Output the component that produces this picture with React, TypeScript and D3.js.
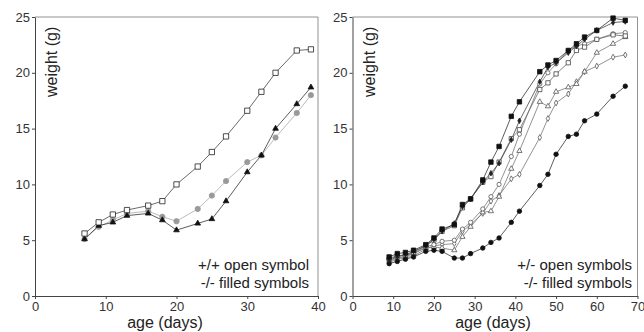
import React, { useRef, useEffect } from "react";
import * as d3 from "d3";

// left panel: +/+ vs -/-
const daysL = [7, 9, 11, 13, 16, 18, 20, 23, 25, 27, 30, 32, 34, 37, 39];
const wtOpenSq = [5.6, 6.6, 7.3, 7.7, 8.1, 8.5, 10.0, 11.6, 12.9, 14.3, 16.6, 18.3, 20.0, 22.0, 22.1];
const wtGrayCirc = [5.1, 6.2, 6.8, 7.4, 7.6, 7.1, 6.7, 7.8, 9.0, 10.3, 12.0, 12.6, 14.2, 16.4, 18.0];
const wtBlackTri = [5.1, 6.3, 6.6, 7.2, 7.4, 6.8, 5.9, 6.5, 6.9, 8.5, 11.1, 12.6, 15.0, 17.2, 18.7];

// right panel: +/- vs -/-
const daysR = [9, 11, 13, 15, 18, 20, 22, 25, 27, 29, 32, 34, 36, 39, 41, 46, 48, 50, 53, 55, 57, 60, 64, 67];
const wtFillSq = [3.5, 3.8, 3.9, 4.1, 4.6, 5.2, 6.0, 6.4, 8.2, 8.7, 10.4, 12.0, 13.4, 16.1, 17.4, 20.1, 20.7, 21.1, 22.0, 22.6, 23.2, 23.8, 24.9, 24.7];
const wtFillDia = [3.2, 3.5, 3.7, 4.0, 4.5, 5.1, 5.8, 6.5, 8.0, 8.7, 10.2, 11.0, 11.9, 14.0, 15.7, 19.2, 20.5, 20.9, 21.8, 22.4, 23.0, 23.8, 24.5, 24.6];
const wtFillCirc = [2.9, 3.1, 3.3, 3.5, 4.0, 4.1, 4.0, 3.4, 3.4, 3.8, 4.3, 4.8, 5.2, 6.6, 7.6, 9.9, 10.9, 12.7, 14.3, 14.5, 15.7, 16.3, 17.9, 18.8];
const wtOpenSqR = [3.3, 3.6, 3.6, 3.9, 4.5, 5.0, 5.8, 6.3, 7.9, 8.7, 10.2, 10.7, 12.0, 14.1, 14.9, 18.5, 19.1, 19.9, 20.9, 22.0, 22.3, 23.0, 23.4, 23.3];
const wtOpenCirc = [3.1, 3.4, 3.5, 3.8, 4.4, 4.6, 4.9, 5.0, 6.0, 6.6, 7.8, 8.9, 10.0, 12.5, 14.5, 19.0, 20.0, 20.8, 22.0, 22.4, 22.6, 23.0, 23.5, 23.6];
const wtOpenTri = [3.4, 3.6, 3.7, 3.8, 4.3, 4.4, 4.3, 4.1, 5.3, 6.2, 7.5, 7.6, 8.9, 11.4, 13.0, 17.4, 17.0, 18.3, 18.7, 19.0, 20.1, 21.8, 22.6, 23.2];
const wtOpenDia = [3.0, 3.3, 3.4, 3.6, 4.2, 4.5, 4.6, 4.7, 5.8, 6.4, 7.4, 8.5, 9.0, 10.5, 10.9, 14.2, 15.9, 17.3, 18.1, 19.2, 20.1, 20.6, 21.4, 21.6];

const yTicks = [0, 5, 10, 15, 20, 25];
const xTicksL = [0, 10, 20, 30, 40];
const xTicksR = [0, 10, 20, 30, 40, 50, 60, 70];

const FONT = "'Liberation Sans', Arial, Helvetica, sans-serif";

type Series = {
  values: number[];
  shape: "square" | "circle" | "triangle" | "diamond";
  fill: string;
  stroke: string;
  line: string;
  area: number; // symbol area in px^2
};

const App: React.FC = () => {
  const svgRef = useRef<SVGSVGElement | null>(null);

  useEffect(() => {
    const svg = d3.select(svgRef.current);
    svg.selectAll("*").remove();

    const y = d3.scaleLinear().domain([0, 25]).range([296, 17]);

    const drawPanel = (
      x: d3.ScaleLinear<number, number>,
      xTicks: number[],
      days: number[],
      series: Series[],
      legend: string[],
      legendRight: number,
      xTitleCenter: number
    ) => {
      const g = svg.append("g");
      const [x0, x1] = x.range();

      // frame top + right
      g.append("path")
        .attr("d", `M${x0},${y(25)}H${x1}V${y(0)}`)
        .attr("fill", "none")
        .attr("stroke", "#777")
        .attr("stroke-width", 0.8);

      const ya = g
        .append("g")
        .attr("transform", `translate(${x0},0)`)
        .call(d3.axisLeft(y).tickValues(yTicks).tickSize(3).tickPadding(2).tickSizeOuter(0));
      const xa = g
        .append("g")
        .attr("transform", `translate(0,${y(0)})`)
        .call(d3.axisBottom(x).tickValues(xTicks).tickSize(3).tickPadding(3).tickSizeOuter(0));
      [ya, xa].forEach((a) => {
        a.select(".domain").attr("stroke", "#444").attr("stroke-width", 1);
        a.selectAll(".tick line").attr("stroke", "#444");
        a.selectAll(".tick text")
          .attr("fill", "#333")
          .attr("font-size", 13)
          .attr("font-family", FONT);
      });

      const line = d3
        .line<number>()
        .x((_, i) => x(days[i]))
        .y((d) => y(d));

      series.forEach((s) => {
        g.append("path")
          .attr("d", line(s.values))
          .attr("fill", "none")
          .attr("stroke", s.line)
          .attr("stroke-width", 0.8);
      });

      series.forEach((s) => {
        const sym = {
          square: d3.symbolSquare,
          circle: d3.symbolCircle,
          triangle: d3.symbolTriangle,
          diamond: d3.symbolDiamond,
        }[s.shape];
        g.selectAll(null)
          .data(s.values)
          .join("path")
          .attr("d", d3.symbol(sym, s.area))
          .attr("transform", (d, i) => `translate(${x(days[i])},${y(d)})`)
          .attr("fill", s.fill)
          .attr("stroke", s.stroke)
          .attr("stroke-width", 0.8);
      });

      g.append("text")
        .attr("transform", `translate(${x0 + 22},97) rotate(-90)`)
        .attr("font-family", FONT)
        .attr("font-size", 16)
        .attr("fill", "#222")
        .text("weight (g)");

      g.append("text")
        .attr("x", xTitleCenter)
        .attr("y", 328)
        .attr("text-anchor", "middle")
        .attr("font-family", FONT)
        .attr("font-size", 16)
        .attr("fill", "#222")
        .text("age (days)");

      g.selectAll(null)
        .data(legend)
        .join("text")
        .attr("x", legendRight)
        .attr("y", (_, i) => 270 + i * 18)
        .attr("text-anchor", "end")
        .attr("font-family", FONT)
        .attr("font-size", 15)
        .attr("fill", "#222")
        .text((d) => d);
    };

    const xL = d3.scaleLinear().domain([0, 40]).range([35, 318]);
    drawPanel(
      xL,
      xTicksL,
      daysL,
      [
        { values: wtGrayCirc, shape: "circle", fill: "#999", stroke: "#999", line: "#aaa", area: 22 },
        { values: wtBlackTri, shape: "triangle", fill: "#111", stroke: "#111", line: "#333", area: 14 },
        { values: wtOpenSq, shape: "square", fill: "#fff", stroke: "#222", line: "#444", area: 28 },
      ],
      ["+/+ open symbol", "-/- filled symbols"],
      309,
      165
    );

    const xR = d3.scaleLinear().domain([0, 70]).range([352.5, 637.5]);
    drawPanel(
      xR,
      xTicksR,
      daysR,
      [
        { values: wtOpenDia, shape: "diamond", fill: "#fff", stroke: "#555", line: "#777", area: 10 },
        { values: wtOpenTri, shape: "triangle", fill: "#fff", stroke: "#555", line: "#777", area: 12 },
        { values: wtOpenCirc, shape: "circle", fill: "#fff", stroke: "#555", line: "#777", area: 14 },
        { values: wtOpenSqR, shape: "square", fill: "#fff", stroke: "#444", line: "#666", area: 18 },
        { values: wtFillCirc, shape: "circle", fill: "#111", stroke: "#111", line: "#333", area: 16 },
        { values: wtFillDia, shape: "diamond", fill: "#222", stroke: "#222", line: "#444", area: 9 },
        { values: wtFillSq, shape: "square", fill: "#111", stroke: "#111", line: "#333", area: 20 },
      ],
      ["+/- open symbols", "-/- filled symbols"],
      632,
      493
    );
  }, []);

  return (
    <div style={{ position: "fixed", left: 0, top: 0, width: 644, height: 332, background: "#fff" }}>
      <svg ref={svgRef} width={644} height={332} style={{ display: "block" }} />
    </div>
  );
};

export default App;
